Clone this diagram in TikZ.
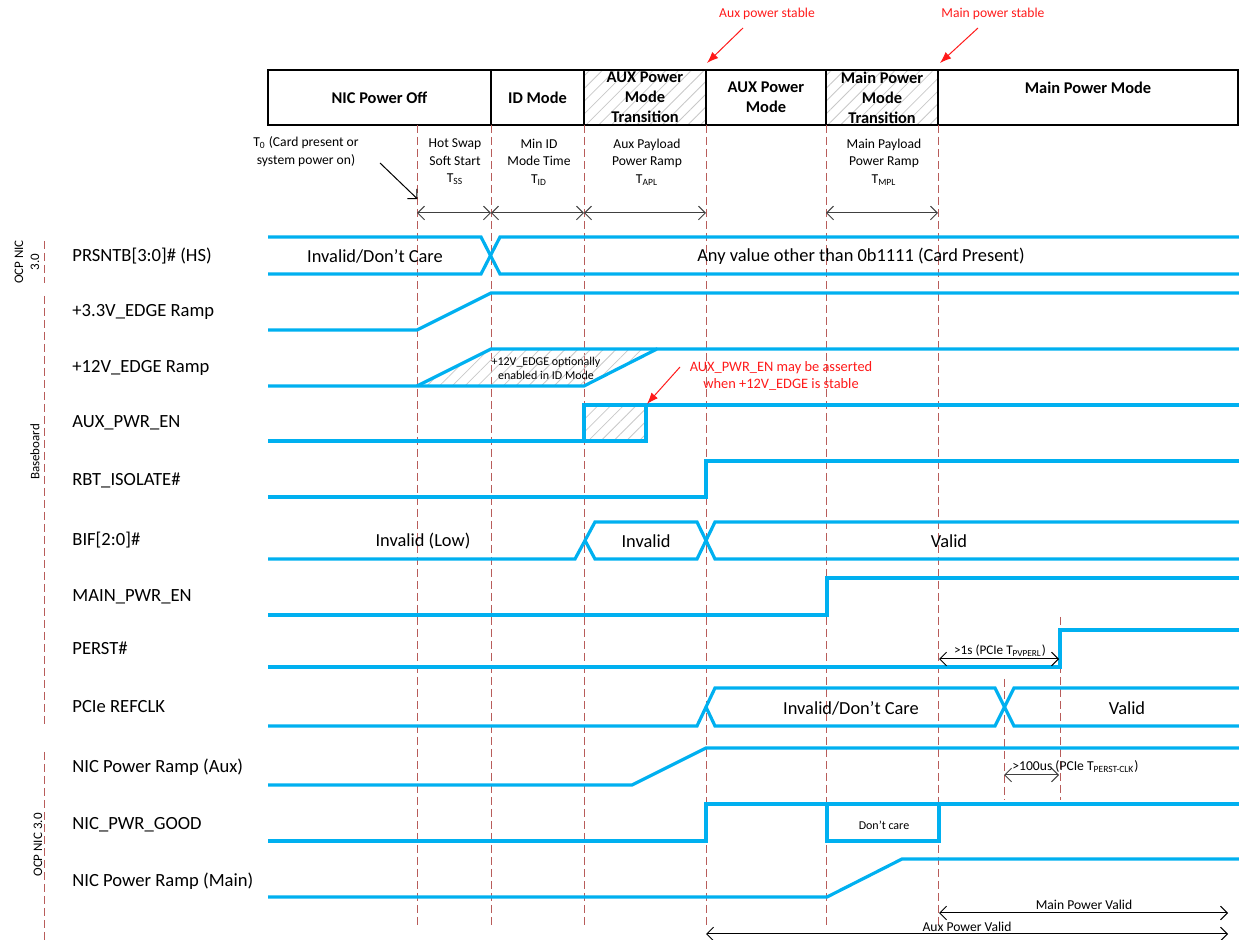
\documentclass[tikz,border=0pt]{standalone}
\usepackage{fontspec}
\setmainfont{Carlito}
\usepackage{tikz}
\usetikzlibrary{arrows.meta,patterns.meta,calc}
\definecolor{tdblue}{HTML}{00B0F0}
\definecolor{tdmark}{HTML}{B85C5A}
\definecolor{tdred}{HTML}{FF1A1A}
\definecolor{tdhatch}{HTML}{C8C8C8}
\definecolor{tddim}{HTML}{404040}
\tikzset{
  sig/.style={draw=tdblue,line width=1.6pt,line join=miter},
  tline/.style={draw=tdmark,dash pattern=on 4pt off 2pt,line width=0.5pt},
  cell/.style={draw,line width=1pt,minimum height=27.5pt,inner sep=0pt,align=center,font=\bfseries\fontsize{8.2}{10}\selectfont},
  hcell/.style={cell,pattern={Lines[angle=45,distance=4.5pt,line width=0.4pt]},pattern color=tdhatch},
  hatch/.style={pattern={Lines[angle=45,distance=4.5pt,line width=0.4pt]},pattern color=tdhatch},
  siglbl/.style={anchor=west,inner sep=0pt,font=\fontsize{9.3}{11}\selectfont},
  bustxt/.style={inner sep=0pt,font=\fontsize{9.2}{11}\selectfont},
  note/.style={inner sep=0pt,align=center,font=\fontsize{6.8}{8.8}\selectfont},
  tiny/.style={inner sep=0pt,align=center,font=\fontsize{6}{7}\selectfont},
  rednote/.style={note,text=tdred},
  grp/.style={rotate=90,inner sep=0pt,align=center,font=\fontsize{6.5}{8}\selectfont},
  dim/.style={{Straight Barb[length=1.2mm]}-{Straight Barb[length=1.2mm]},draw=tddim,line width=0.5pt},
  redarr/.style={-{Latex[length=2mm]},draw=tdred,line width=0.5pt},
  ptr/.style={-{Straight Barb[length=1.2mm]},draw=black,line width=0.5pt},
}
\begin{document}
\begin{tikzpicture}[x=0.5pt,y=-0.5pt]
  \useasboundingbox (0,0) rectangle (1239,940);
  % mode header
  \node[cell,minimum width=111.5pt] (hdrOff) at (379.5,97.5) {NIC Power Off};
  \node[cell,minimum width=46.5pt] (hdrId) at (537.5,97.5) {ID Mode};
  \node[hcell,minimum width=61pt] (hdrAuxT) at (645,97.5) {AUX Power\\Mode\\Transition};
  \node[cell,minimum width=60pt] (hdrAux) at (766,97.5) {AUX Power\\Mode};
  \node[hcell,minimum width=56pt] (hdrMainT) at (882,97.5) {Main Power\\Mode\\Transition};
  \node[cell,minimum width=150pt] (hdrMain) at (1088,97.5) {Main Power Mode\\\phantom{M}};
  % stable markers
  \node[rednote] (auxStable) at (767,14) {Aux power stable};
  \node[rednote] (mainStable) at (993,14) {Main power stable};
  \coordinate (auxStableTip) at (707,63);
  \coordinate (mainStableTip) at (940,63);
  \draw[redarr] (743,28) -- (auxStableTip);
  \draw[redarr] (978,28) -- (mainStableTip);
  % time marks
  \foreach \tx in {417,491,584,706,826,938}
    \draw[tline] (\tx,125) -- (\tx,927);
  \draw[tline] (1004,679) -- (1004,800);
  \draw[tline] (1060,617) -- (1060,800);
  % interval labels
  \node[note] (tZero) at (306,151.5) {T\textsubscript{0} (Card present or\\system power on)};
  \coordinate (tZeroTip) at (417.5,199);
  \draw[ptr] (380,163) -- (tZeroTip);
  \node[note] (tSS) at (455,162) {Hot Swap\\Soft Start\\T\textsubscript{SS}};
  \node[note] (tID) at (539,162) {Min ID\\Mode Time\\T\textsubscript{ID}};
  \node[note] (tAPL) at (647,162) {Aux Payload\\Power Ramp\\T\textsubscript{APL}};
  \node[note] (tMPL) at (884,162) {Main Payload\\Power Ramp\\T\textsubscript{MPL}};
  \coordinate (d0) at (417,213);
  \coordinate (d1) at (491,213);
  \coordinate (d2) at (584,213);
  \coordinate (d3) at (706,213);
  \coordinate (d4) at (826,213);
  \coordinate (d5) at (938,213);
  \draw[dim] (d0) -- (d1);
  \draw[dim] (d1) -- (d2);
  \draw[dim] (d2) -- (d3);
  \draw[dim] (d4) -- (d5);
  % group labels
  \node[grp] (grpNicTop) at (27,262) {OCP NIC\\3.0};
  \node[grp] (grpBase) at (35,452) {Baseboard};
  \node[grp] (grpNicBot) at (38,845) {OCP NIC 3.0};
  \draw[tline] (44,241) -- (44,283);
  \draw[tline] (44,296) -- (44,725);
  \draw[tline] (44,752) -- (44,940);
  % signal names
  \node[siglbl] (lblPrsnt) at (72,256) {PRSNTB[3:0]\# (HS)};
  \node[siglbl] (lblEdge3) at (72,312) {+3.3V\_EDGE Ramp};
  \node[siglbl] (lblEdge12) at (72,368) {+12V\_EDGE Ramp};
  \node[siglbl] (lblAuxEn) at (72,423) {AUX\_PWR\_EN};
  \node[siglbl] (lblRbt) at (72,480) {RBT\_ISOLATE\#};
  \node[siglbl] (lblBif) at (72,540) {BIF[2:0]\#};
  \node[siglbl] (lblMainEn) at (72,597) {MAIN\_PWR\_EN};
  \node[siglbl] (lblPerst) at (72,648) {PERST\#};
  \node[siglbl] (lblRefclk) at (72,707) {PCIe REFCLK};
  \node[siglbl] (lblRampAux) at (72,767) {NIC Power Ramp (Aux)};
  \node[siglbl] (lblPwrGood) at (72,825) {NIC\_PWR\_GOOD};
  \node[siglbl] (lblRampMain) at (72,881) {NIC Power Ramp (Main)};
  % PRSNTB
  \draw[sig] (268,237) -- (481,237) -- (500,274) -- (1239,274);
  \draw[sig] (268,274) -- (481,274) -- (500,237) -- (1239,237);
  \node[bustxt] (prsntOld) at (375,256) {Invalid/Don’t Care};
  \node[bustxt] (prsntNew) at (861,256) {Any value other than 0b1111 (Card Present)};
  % +3.3V
  \draw[sig] (268,330) -- (417,330) -- (491,293) -- (1239,293);
  % +12V
  \fill[hatch] (417,386) -- (491,349) -- (657,349) -- (584,386) -- cycle;
  \draw[sig] (268,386) -- (584,386) -- (657,349) -- (1239,349);
  \draw[sig] (417,386) -- (491,349) -- (657,349);
  \node[tiny] (edgeOpt) at (546,368.5) {+12V\_EDGE optionally\\enabled in ID Mode};
  % AUX_PWR_EN
  \fill[hatch] (584,405) rectangle (646,441);
  \draw[sig] (268,441) -- (646,441) -- (646,405) -- (1239,405);
  \draw[sig] (584,441) -- (584,405) -- (646,405);
  \node[rednote,font=\fontsize{7.2}{8.6}\selectfont] (auxEnNote) at (781,376) {AUX\_PWR\_EN may be asserted\\when +12V\_EDGE is stable};
  \coordinate (auxEnTip) at (647,404);
  \draw[redarr] (680,367) -- (auxEnTip);
  % RBT_ISOLATE#
  \draw[sig] (268,497) -- (706,497) -- (706,461) -- (1239,461);
  % BIF
  \draw[sig] (268,559) -- (575,559) -- (595,522) -- (697,522) -- (715,559) -- (1239,559);
  \draw[sig] (585,540.5) -- (595,559) -- (697,559) -- (715,522) -- (1239,522);
  \node[bustxt] (bifLow) at (423,541) {Invalid (Low)};
  \node[bustxt] (bifBad) at (646,541) {Invalid};
  \node[bustxt] (bifOk) at (949,541) {Valid};
  % MAIN_PWR_EN
  \draw[sig] (268,615) -- (827,615) -- (827,578) -- (1239,578);
  % PERST#
  \draw[sig] (268,667) -- (1060,667) -- (1060,630) -- (1239,630);
  \coordinate (pvA) at (939,659);
  \coordinate (pvB) at (1059,659);
  \draw[dim,draw=black] (pvA) -- (pvB);
  \node[tiny,font=\fontsize{6.6}{8}\selectfont] (pvperl) at (1000,651) {>1s (PCIe T\textsubscript{PVPERL})};
  % REFCLK
  \draw[sig] (268,726) -- (697,726) -- (715,688) -- (995,688) -- (1014,726) -- (1239,726);
  \draw[sig] (706,707) -- (715,726) -- (995,726) -- (1014,688) -- (1239,688);
  \node[bustxt] (clkBad) at (851,708) {Invalid/Don’t Care};
  \node[bustxt] (clkOk) at (1127,708) {Valid};
  % NIC power ramp aux
  \draw[sig] (268,785) -- (632,785) -- (706,748) -- (1239,748);
  \coordinate (pcA) at (1004,775);
  \coordinate (pcB) at (1059,775);
  \draw[dim] (pcA) -- (pcB);
  \node[tiny,font=\fontsize{6.8}{8}\selectfont,anchor=west] (perstclk) at (1012,767) {>100us (PCIe T\textsubscript{PERST-CLK})};
  % NIC_PWR_GOOD
  \draw[sig] (268,841) -- (706,841) -- (706,804) -- (1239,804);
  \draw[sig] (827,804) -- (827,841) -- (939,841) -- (939,804);
  \node[tiny] (pgDc) at (884,825) {Don’t care};
  % NIC power ramp main
  \draw[sig] (268,897) -- (827,897) -- (902,859) -- (1239,859);
  % validity spans
  \coordinate (mvA) at (939,913);
  \coordinate (mvB) at (1228,913);
  \coordinate (avA) at (706,934);
  \coordinate (avB) at (1228,934);
  \draw[dim,draw=black] (mvA) -- (mvB);
  \draw[dim,draw=black] (avA) -- (avB);
  \node[note] (mainValid) at (1084,905) {Main Power Valid};
  \node[note] (auxValid) at (967,927) {Aux Power Valid};
\end{tikzpicture}
\end{document}
